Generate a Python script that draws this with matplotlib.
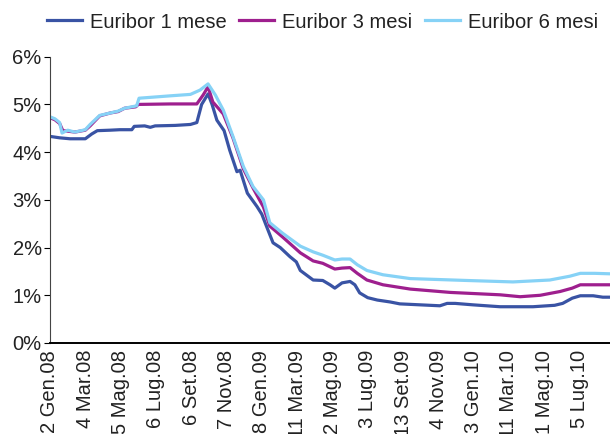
import matplotlib
matplotlib.use("Agg")
import matplotlib.pyplot as plt
import numpy as np

plt.rcParams['font.family'] = ['Liberation Sans', 'DejaVu Sans']

# observation index (business day, step 44 between labels) and rates in %
tick_labels = ["2 Gen.08", "4 Mar.08", "5 Mag.08", "6 Lug.08", "6 Set.08", "7 Nov.08",
               "8 Gen.09", "11 Mar.09", "2 Mag.09", "3 Lug.09", "13 Set.09", "4 Nov.09",
               "3 Gen.10", "11 Mar.10", "1 Mag.10", "5 Lug.10"]
tick_step = 44

x_1m = [0, 12, 25, 44, 52, 59, 75, 87, 102, 105, 118, 125, 131, 156, 175, 183, 189, 197,
        202, 208, 217, 224, 233, 237, 246, 258, 264, 270, 278, 287, 299, 307, 312, 328,
        340, 349, 355, 364, 374, 380, 386, 396, 408, 424, 436, 461, 486, 495, 505, 527,
        561, 602, 629, 639, 651, 661, 677, 689, 698]
y_1m = [4.33, 4.30, 4.28, 4.28, 4.38, 4.45, 4.46, 4.47, 4.47, 4.54, 4.55, 4.52, 4.55,
        4.56, 4.58, 4.62, 5.00, 5.22, 5.00, 4.67, 4.45, 4.04, 3.59, 3.62, 3.14, 2.86,
        2.70, 2.44, 2.10, 2.00, 1.81, 1.70, 1.52, 1.32, 1.31, 1.22, 1.15, 1.26, 1.29,
        1.22, 1.05, 0.95, 0.90, 0.86, 0.82, 0.80, 0.78, 0.83, 0.83, 0.80, 0.76, 0.76,
        0.79, 0.83, 0.94, 0.99, 0.99, 0.96, 0.96]

x_3m = [0, 6, 12, 16, 22, 31, 44, 50, 62, 75, 85, 93, 107, 110, 150, 183, 191, 197, 203,
        216, 228, 241, 253, 266, 274, 290, 312, 328, 340, 355, 364, 374, 383, 395, 415,
        449, 499, 561, 586, 611, 636, 651, 661, 698]
y_3m = [4.72, 4.68, 4.60, 4.45, 4.44, 4.42, 4.46, 4.55, 4.76, 4.82, 4.85, 4.92, 4.95,
        5.00, 5.01, 5.01, 5.20, 5.37, 5.05, 4.80, 4.30, 3.65, 3.25, 2.85, 2.45, 2.22,
        1.89, 1.72, 1.67, 1.55, 1.57, 1.58, 1.46, 1.32, 1.22, 1.13, 1.06, 1.01, 0.97,
        1.00, 1.08, 1.15, 1.22, 1.22]

x_6m = [0, 6, 12, 15, 22, 31, 44, 50, 62, 75, 85, 93, 108, 111, 150, 175, 187, 197, 206,
        216, 228, 241, 253, 266, 274, 290, 312, 328, 340, 355, 364, 374, 383, 395, 415,
        449, 520, 577, 623, 648, 661, 679, 698]
y_6m = [4.74, 4.70, 4.62, 4.40, 4.46, 4.42, 4.47, 4.58, 4.77, 4.82, 4.86, 4.92, 4.97,
        5.13, 5.18, 5.21, 5.30, 5.43, 5.20, 4.88, 4.33, 3.70, 3.28, 3.00, 2.52, 2.30,
        2.03, 1.91, 1.84, 1.74, 1.76, 1.76, 1.64, 1.52, 1.43, 1.35, 1.31, 1.28, 1.32,
        1.40, 1.46, 1.46, 1.45]

fig = plt.figure(figsize=(6.10, 4.34), dpi=100)
ax = fig.add_axes([50 / 610, 91 / 434, 560 / 610, 286.3 / 434])

ax.plot(x_1m, y_1m, color="#3953a4", lw=2.3, label="Euribor 1 mese")
ax.plot(x_3m, y_3m, color="#9e1f8e", lw=2.3, label="Euribor 3 mesi")
ax.plot(x_6m, y_6m, color="#86d2f6", lw=2.3, label="Euribor 6 mesi")

ax.set_xlim(0, 698)
ax.set_ylim(0, 6)
ax.set_yticks(range(0, 7))
ax.set_yticklabels([f"{v}%" for v in range(0, 7)], fontsize=14.5, color="#222222")
ax.set_xticks(np.arange(len(tick_labels)) * tick_step)
ax.set_xticklabels(tick_labels, rotation=90, fontsize=14.5, color="#222222")
ax.tick_params(axis="x", length=0, pad=5)
ax.tick_params(axis="y", length=4, width=0.8, pad=2)

for side in ["top", "right"]:
    ax.spines[side].set_visible(False)
ax.spines["left"].set_color("#444444")
ax.spines["bottom"].set_linewidth(1.4)

fig.legend(loc="center left", bbox_to_anchor=(47 / 610, 1 - 22 / 434), ncol=3,
           frameon=False, fontsize=14.5, handlelength=1.75, handletextpad=0.4,
           columnspacing=0.6, borderpad=0, borderaxespad=0, labelcolor="#222222")

fig.savefig("out.png", dpi=100)
